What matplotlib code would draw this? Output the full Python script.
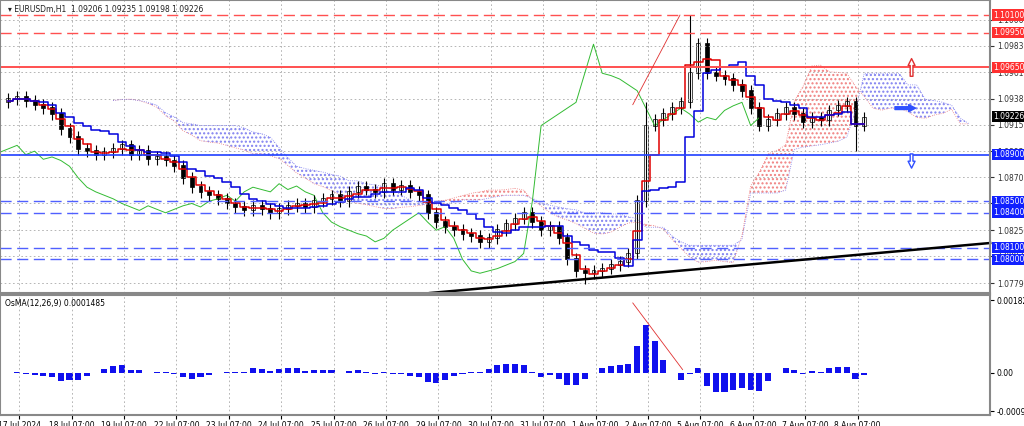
import numpy as np
import matplotlib
matplotlib.use("Agg")
import matplotlib.pyplot as plt

# 4-hour closes, 6 per trading day
days = ["17 Jul 2024", "18 Jul 07:00", "19 Jul 07:00", "22 Jul 07:00", "23 Jul 07:00",
        "24 Jul 07:00", "25 Jul 07:00", "26 Jul 07:00", "29 Jul 07:00", "30 Jul 07:00",
        "31 Jul 07:00", "1 Aug 07:00", "2 Aug 07:00", "5 Aug 07:00", "6 Aug 07:00",
        "7 Aug 07:00", "8 Aug 07:00"]
closes = [
    1.0938, 1.0940, 1.0936, 1.0933, 1.0930, 1.0925,
    1.0912, 1.0905, 1.0895, 1.0893, 1.0890, 1.0892,
    1.0895, 1.0898, 1.0890, 1.0893, 1.0886, 1.0888,
    1.0885, 1.0880, 1.0870, 1.0862, 1.0858, 1.0855,
    1.0852, 1.0848, 1.0845, 1.0842, 1.0846, 1.0843,
    1.0840, 1.0843, 1.0846, 1.0848, 1.0845, 1.0850,
    1.0852, 1.0855, 1.0850, 1.0858, 1.0862, 1.0860,
    1.0858, 1.0865, 1.0860, 1.0863, 1.0858, 1.0855,
    1.0840, 1.0832, 1.0828, 1.0825, 1.0822, 1.0820,
    1.0815, 1.0818, 1.0825, 1.0830, 1.0835, 1.0840,
    1.0832, 1.0825, 1.0828, 1.0818, 1.0800, 1.0790,
    1.0788, 1.0790, 1.0792, 1.0795, 1.0798, 1.0805,
    1.0850, 1.0915, 1.0920, 1.0925, 1.0930, 1.0935,
    1.0960, 1.0985, 1.0960, 1.0958, 1.0955, 1.0950,
    1.0945, 1.0930, 1.0915, 1.0920, 1.0925, 1.0930,
    1.0925, 1.0918, 1.0922, 1.0920, 1.0928, 1.0932,
    1.0935, 1.0915, 1.0922,
]
first_open = 1.0935
spike_highs = {78: 1.1010, 73: 1.0935}
spike_lows = {66: 1.0779, 97: 1.0893}

red_dashed = [1.1010, 1.0995]
red_solid = [1.0965]
blue_solid = [1.0890]
blue_dashed = [1.0850, 1.0840, 1.0810, 1.0800]
price_ticks = [1.10060, 1.09835, 1.09610, 1.09380, 1.09155, 1.08930, 1.08705,
               1.08480, 1.08250, 1.08030, 1.07795]
trend_line = ([8.13, 18.82], [1.0771, 1.0814])
wave_line = ([12.0, 12.9], [1.0933, 1.1010])
osma_line = ([12.0, 12.95], [0.00175, 0.00008])

closes = np.array(closes)
n = len(closes)
opens = np.concatenate([[first_open], closes[:-1]])
highs = np.maximum(opens, closes) + 0.0005
lows = np.minimum(opens, closes) - 0.0005
for k, v in spike_highs.items():
    highs[k] = v
for k, v in spike_lows.items():
    lows[k] = v
x = np.arange(n) / 6 + 1 / 12
step = 1 / 6

def mid(h, l, w):
    out = np.full(len(h), np.nan)
    for i in range(len(h)):
        s = max(0, i - w + 1)
        out[i] = (h[s:i + 1].max() + l[s:i + 1].min()) / 2
    return out

tenkan = mid(highs, lows, 2)
kijun = mid(highs, lows, 7)
span_b = mid(highs, lows, 13)
span_a = (tenkan + kijun) / 2
shift = 12

def ema(v, p):
    a = 2 / (p + 1)
    out = np.zeros(len(v))
    out[0] = v[0]
    for i in range(1, len(v)):
        out[i] = a * v[i] + (1 - a) * out[i - 1]
    return out

macd = ema(closes, 3) - ema(closes, 7)
osma = (macd - ema(macd, 3)) * 0.9

fig = plt.figure(figsize=(10.24, 4.26), dpi=100)
fig.patch.set_facecolor("white")
W, H = 1024, 426
ax = fig.add_axes([0, 1 - 293 / H, 990 / W, 293 / H])
ax2 = fig.add_axes([0, 1 - 415 / H, 990 / W, 120 / H])
xl = (-4 / 52.4, (990 - 4) / 52.4)
fs = 5.5

# cloud
xc = x + shift * step
ax.fill_between(xc, span_a, span_b, where=span_a >= span_b, facecolor="none",
                edgecolor="#f08080", hatch="....", linewidth=0, interpolate=True)
ax.fill_between(xc, span_a, span_b, where=span_a < span_b, facecolor="none",
                edgecolor="#8080f0", hatch="....", linewidth=0, interpolate=True)
ax.plot(xc, span_a, color="#f08080", lw=0.6, ls=":")
ax.plot(xc, span_b, color="#8080f0", lw=0.6, ls=":")
ax.plot(x - shift * step, closes, color="#33bb33", lw=0.7)

for i in range(n):
    ax.vlines(x[i], lows[i], highs[i], color="black", lw=0.8)
    col = "white" if closes[i] >= opens[i] else "black"
    ax.bar(x[i], abs(closes[i] - opens[i]) + 0.00008, bottom=min(opens[i], closes[i]),
           width=step * 0.45, color=col, edgecolor="black", lw=0.5)
ax.step(x, tenkan, where="mid", color="#e00000", lw=1.1)
ax.step(x, kijun, where="mid", color="#0000dd", lw=1.1)

for p in red_dashed:
    ax.axhline(p, color="#ff5050", ls=(0, (8, 4)), lw=1)
for p in red_solid:
    ax.axhline(p, color="#ff5050", lw=1.4)
for p in blue_solid:
    ax.axhline(p, color="#2040ff", lw=1.2)
for p in blue_dashed:
    ax.axhline(p, color="#5060ff", ls=(0, (8, 4)), lw=1)
ax.plot(*trend_line, color="black", lw=1.8, clip_on=False)
ax.plot(*wave_line, color="#e03030", lw=0.6)
ax.annotate("", xy=(17.32, 1.0975), xytext=(17.32, 1.0955),
            arrowprops=dict(arrowstyle="simple", fc="white", ec="#e03030"))
ax.annotate("", xy=(17.32, 1.0876), xytext=(17.32, 1.0893),
            arrowprops=dict(arrowstyle="simple", fc="white", ec="#3050ff"))
ax.annotate("", xy=(17.45, 1.0930), xytext=(16.95, 1.0930),
            arrowprops=dict(arrowstyle="simple", fc="#3050ff", ec="#3050ff"))

ax.set_xlim(*xl)
ax.set_ylim(1.0771, 1.1023)
ax.set_xticks([d + 7 / 24 for d in range(len(days))])
ax.set_xticklabels([])
ax.set_yticks(price_ticks)
ax.set_yticklabels(["%.5f" % t for t in price_ticks])
ax.yaxis.tick_right()
ax.tick_params(axis="y", labelsize=fs, length=3, pad=2, colors="#333333")
ax.tick_params(axis="x", length=0)
ax.grid(True, color="#aaaaaa", ls=(0, (2, 3)), lw=0.6)
ax.text(0.008, 0.968, "\u25be EURUSDm,H1  1.09206 1.09235 1.09198 1.09226", fontsize=fs,
        va="center", color="#222222", transform=ax.transAxes)

def box(a, y, txt, fc, tc="white"):
    a.text(1.003, y, txt, transform=a.get_yaxis_transform(), fontsize=fs, va="center",
           ha="left", color=tc, bbox=dict(boxstyle="square,pad=0.15", fc=fc, ec="none"))

for p in red_dashed + red_solid:
    box(ax, p, "%.5f" % p, "#ff3030")
for p in blue_solid + blue_dashed:
    box(ax, p, "%.5f" % p, "#1020ff")
box(ax, closes[-1] + 0.00006, "1.09226", "black")

ax2.bar(x, osma, width=step * 0.7, color="#1010ee")
ax2.plot(*osma_line, color="#e03030", lw=0.6)
ax2.set_xlim(*xl)
ax2.set_ylim(-0.00106, 0.00195)
ax2.set_yticks([0.0018211, 0.0, -0.000967])
ax2.set_yticklabels(["0.0018211", "0.00", "-0.000967"])
ax2.yaxis.tick_right()
ax2.tick_params(axis="y", labelsize=fs, length=3, pad=2)
ax2.set_xticks([d + 7 / 24 for d in range(len(days))])
ax2.set_xticklabels(days, fontsize=fs)
ax2.tick_params(axis="x", length=3, pad=1)
ax2.grid(True, axis="x", color="#aaaaaa", ls=(0, (2, 3)), lw=0.6)
ax2.text(0.005, 0.97, "OsMA(12,26,9) 0.0001485", transform=ax2.transAxes,
         fontsize=fs, va="top")
for a in (ax, ax2):
    for s in a.spines.values():
        s.set_color("#888888")
        s.set_linewidth(1.5)

fig.savefig("out.png", dpi=100)
